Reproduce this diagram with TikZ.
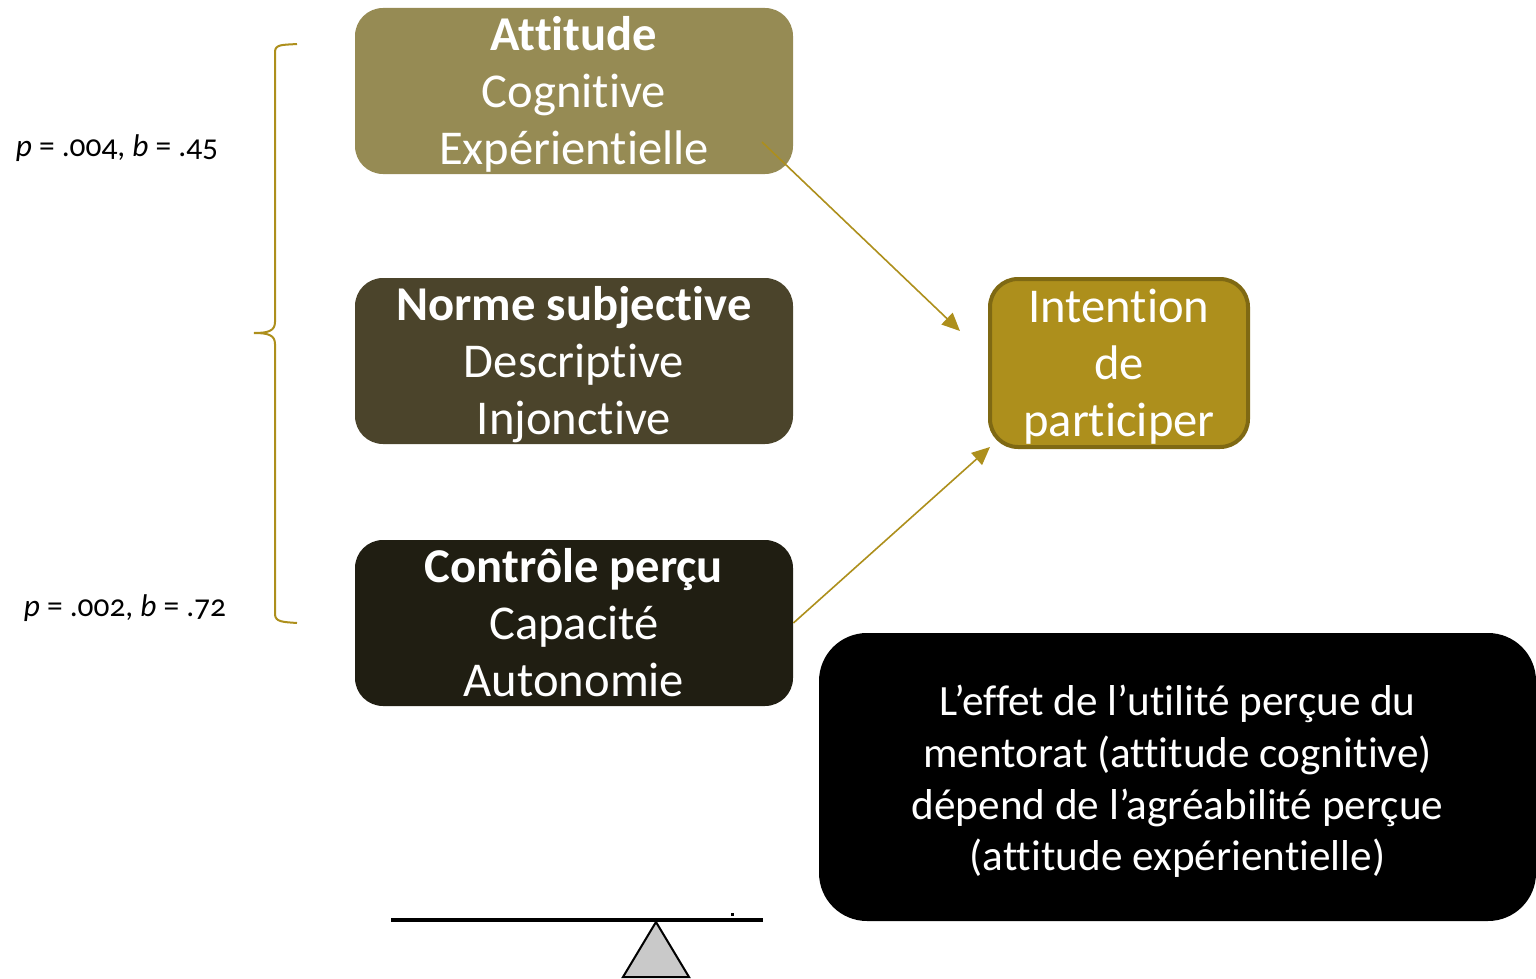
\documentclass[tikz,border=0pt]{standalone}
\usepackage{fontspec}
\setmainfont[Numbers=OldStyle,Ligatures=NoCommon]{Carlito}
\usetikzlibrary{arrows.meta, positioning}
\definecolor{attcol}{HTML}{968B54}
\definecolor{normcol}{HTML}{4B442B}
\definecolor{ctrlcol}{HTML}{201E12}
\definecolor{intcol}{HTML}{AD8F1C}
\definecolor{intline}{HTML}{7F6913}
\definecolor{goldline}{HTML}{AD8F1C}

\begin{document}
\begin{tikzpicture}[x=0.5pt, y=-0.5pt, >={Triangle[length=9pt,width=8pt]}, node distance=135pt and 272.5pt, on grid]
      \tikzset{factor/.style={rounded corners=14pt,minimum width=219pt,minimum height=83pt,text=white,align=center,inner sep=0pt,font=\fontsize{24.3}{28.5}\selectfont,text height=73.5pt,text depth=0pt},
      link/.style={->,draw=goldline,line width=0.8pt},
      stat/.style={font=\fontsize{15.7}{19}\selectfont,inner sep=0pt}}
      \useasboundingbox (0,0) rectangle (1536,979);
      \node[factor,fill=attcol] (att) at (574,91) {\textbf{Attitude}\\Cognitive\\Expérientielle};
      \node[factor,fill=normcol] (norm) [below = of att] {\textbf{Norme subjective}\\Descriptive\\Injonctive};
      \node[factor,fill=ctrlcol] (ctrl) [below = 131pt of norm] {\textbf{Contrôle perçu}\\Capacité\\Autonomie};
      \node[factor,fill=intcol,draw=intline,line width=2pt,minimum width=129pt,minimum height=84pt] (int) [right = of norm, yshift=-1pt] {Intention\\de\\participer};
      \node[rounded corners=24pt,fill=black,text=white,align=center,minimum width=358.5pt,minimum height=144pt,inner sep=0pt,font=\fontsize{21.6}{25.8}\selectfont,text height=93.6pt,text depth=0pt] (note) at (1177.5,777) {L’effet de l’utilité perçue du\\mentorat (attitude cognitive)\\dépend de l’agréabilité perçue\\(attitude expérientielle)};
      \node[stat] (statA) at (117,148) {\textit{p} = .004, \textit{b} = .45};
      \node[stat] (statC) at (125,608) {\textit{p} = .002, \textit{b} = .72};
      % arrows
      \coordinate (attIn) at (762,142);
      \coordinate (intA) at (960,331);
      \coordinate (intC) at (990,447);
      \draw[link] (attIn) -- (intA);
      \draw[link] (ctrl.east) -- (intC);
      % brace
      \coordinate (braceTop) at (297,44);
      \coordinate (braceTip) at (254,333);
      \coordinate (braceEnd) at (297,623);
      \draw[goldline,line width=1pt] (braceTop) .. controls (283,45) and (275,44) .. (275,52) -- (275,322)
        .. controls (275,331) and (268,333) .. (braceTip) .. controls (268,333) and (275,335) .. (275,344) -- (275,614)
        .. controls (275,622) and (283,622) .. (braceEnd);
      % balance
      \coordinate (beamL) at (391,920);
      \coordinate (beamR) at (763,920);
      \draw[line width=2.2pt] (beamL) -- (beamR);
      \draw[fill=black!21,line width=1pt] (656,922) -- (689,977) -- (623,977) -- cycle;
      \fill (731,913) rectangle (734,916);
    \end{tikzpicture}
\end{document}
